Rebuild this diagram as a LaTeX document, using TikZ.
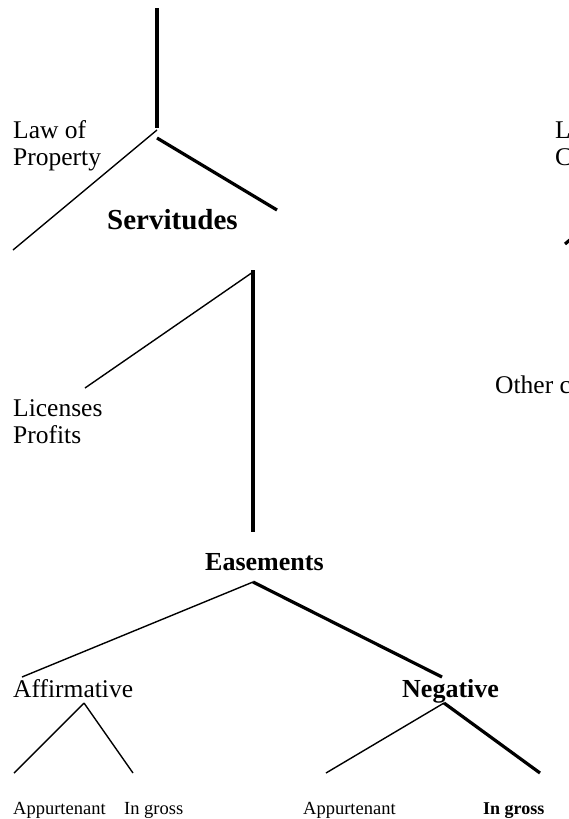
\documentclass[tikz,border=0pt]{standalone}
\usepackage{fontspec}
\setmainfont{Liberation Serif}
\begin{document}
\begin{tikzpicture}[x=1pt,y=-1pt,
  lbl/.style={inner sep=0pt, anchor=base west, align=left, font=\fontsize{25.5}{27}\selectfont},
  bigbold/.style={inner sep=0pt, anchor=base west, font=\fontsize{29}{31}\selectfont\bfseries},
  boldlbl/.style={inner sep=0pt, anchor=base west, font=\fontsize{26}{28}\selectfont\bfseries},
  small/.style={inner sep=0pt, anchor=base west, font=\fontsize{18.5}{20}\selectfont},
  smallbold/.style={small, font=\fontsize{18}{20}\selectfont\bfseries},
  heavy/.style={line width=3.2pt},
  light/.style={line width=1.4pt},
]
\useasboundingbox (0,0) rectangle (569,819);

% texts (multi-line nodes: base = last line)
\node[lbl] (law) at (13,165) {Law of\\Property};
\node[bigbold] (serv) at (107,229) {Servitudes};
\node[lbl] (lc) at (555,165) {L\\C};
\node[lbl] (lic) at (13,443) {Licenses\\Profits};
\node[lbl] (oth) at (495,393) {Other c};
\node[boldlbl] (eas) at (205,570) {Easements};
\node[lbl] (aff) at (13,697) {Affirmative};
\node[boldlbl] (neg) at (402,697) {Negative};
\node[small] (app1) at (13,814) {Appurtenant};
\node[small] (ing1) at (124,814) {In gross};
\node[small] (app2) at (303,814) {Appurtenant};
\node[smallbold] (ing2) at (483,814) {In gross};

% connector points
\coordinate (top0) at (157,8);
\coordinate (top1) at (157,128);
\coordinate (lawA) at (157,130);
\coordinate (lawL) at (13,250);
\coordinate (lawB) at (157,138);
\coordinate (lawR) at (277,210);
\coordinate (cut0) at (565,244);
\coordinate (cut1) at (571,239);
\coordinate (servV0) at (253,270);
\coordinate (servV1) at (253,532);
\coordinate (servA) at (253,272);
\coordinate (servL) at (85,388);
\coordinate (easA) at (253,582);
\coordinate (easL) at (22,677);
\coordinate (easR) at (442,677);
\coordinate (affA) at (84,703);
\coordinate (affL) at (14,773);
\coordinate (affR) at (133,773);
\coordinate (negA) at (444,703);
\coordinate (negL) at (326,773);
\coordinate (negR) at (540,773);

\draw[heavy] (top0) -- (top1);
\draw[light] (lawA) -- (lawL);
\draw[heavy] (lawB) -- (lawR);
\draw[heavy] (cut0) -- (cut1);
\draw[heavy] (servV0) -- (servV1);
\draw[light] (servA) -- (servL);
\draw[light] (easA) -- (easL);
\draw[heavy] (easA) -- (easR);
\draw[light] (affA) -- (affL);
\draw[light] (affA) -- (affR);
\draw[light] (negA) -- (negL);
\draw[heavy] (negA) -- (negR);
\end{tikzpicture}
\end{document}
